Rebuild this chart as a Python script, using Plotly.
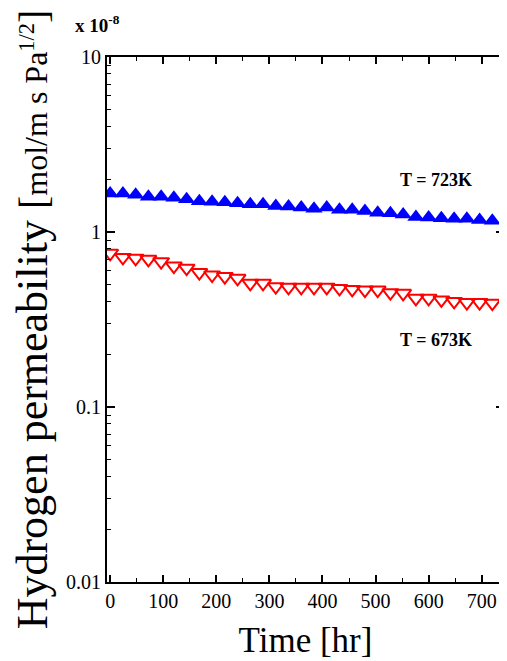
import plotly.graph_objects as go

time_hr = [0, 24, 48, 72, 96, 120, 144, 168, 192, 216, 240, 264, 288, 312, 336, 360,
           384, 408, 432, 456, 480, 504, 528, 552, 576, 600, 624, 648, 672, 696, 720]

perm_723K = [1.66, 1.66, 1.63, 1.59, 1.59, 1.57, 1.54, 1.50, 1.49, 1.48, 1.46, 1.44, 1.44,
             1.41, 1.40, 1.38, 1.36, 1.38, 1.34, 1.34, 1.32, 1.29, 1.28, 1.26, 1.22, 1.21,
             1.20, 1.19, 1.19, 1.17, 1.16]

perm_673K = [0.756, 0.716, 0.707, 0.698, 0.677, 0.639, 0.621, 0.586, 0.568, 0.556, 0.544,
             0.509, 0.509, 0.487, 0.483, 0.483, 0.483, 0.483, 0.476, 0.470, 0.466, 0.466,
             0.450, 0.446, 0.418, 0.418, 0.409, 0.401, 0.395, 0.395, 0.392]

x_ticks = [0, 100, 200, 300, 400, 500, 600, 700]
x_minor = [50, 150, 250, 350, 450, 550, 650]
y_ticks = [0.01, 0.1, 1, 10]
y_tick_text = ["0.01", "0.1", "1", "10"]
y_minor = [m * d for d in (0.01, 0.1, 1) for m in range(2, 10)]

FONT = '"Liberation Serif", "Times New Roman", Times, serif'

fig = go.Figure()
fig.add_trace(go.Scatter(
    x=time_hr, y=perm_723K, mode="markers", name="T = 723K",
    marker=dict(symbol="triangle-up", size=15, color="#0000FF",
                line=dict(width=0)),
))
fig.add_trace(go.Scatter(
    x=time_hr, y=perm_673K, mode="markers", name="T = 673K",
    marker=dict(symbol="triangle-down-open", size=14, color="#FF0000",
                line=dict(width=2, color="#FF0000")),
))

# page body has an 8px margin, so the figure is 8px smaller and shifted
fig.update_layout(
    width=499, height=653,
    margin=dict(l=99, r=3, t=49, b=79),
    paper_bgcolor="white", plot_bgcolor="white",
    showlegend=False,
    font=dict(family=FONT, color="black", size=20),
)

fig.update_xaxes(
    range=[-6, 742], tickmode="array", tickvals=x_ticks, automargin=False,
    ticks="inside", ticklen=7, tickwidth=1.5, tickcolor="black",
    showline=True, linewidth=2, linecolor="black", mirror="allticks",
    showgrid=False, zeroline=False,
    minor=dict(tickmode="array", tickvals=x_minor,
               ticks="inside", ticklen=4, tickwidth=1, tickcolor="black", showgrid=False),
    tickfont=dict(family=FONT, size=20),
    title=dict(text="Time [hr]", font=dict(family=FONT, size=35), standoff=16),
)
fig.update_yaxes(
    type="log", range=[-2, 1], tickmode="array", tickvals=y_ticks, ticktext=y_tick_text,
    automargin=False,
    ticks="inside", ticklen=8, tickwidth=1.5, tickcolor="black",
    showline=True, linewidth=2, linecolor="black", mirror="allticks",
    showgrid=False, zeroline=False,
    minor=dict(tickmode="array", tickvals=y_minor,
               ticks="inside", ticklen=4, tickwidth=1, tickcolor="black", showgrid=False),
    tickfont=dict(family=FONT, size=20),
    title=dict(text=("Hydrogen permeability "
                     "<span style='font-size:40px'>[</span>"
                     "<span style='font-size:32px'>mol/m s Pa<sup>1/2</sup></span>"
                     "<span style='font-size:40px'>]</span>"),
               font=dict(family=FONT, size=44), standoff=17),
)

# plot area in page pixels: x 107..504, y 57..582
def px_x(p):
    return (p - 107) / 397.0

def px_y(p):
    return (582 - p) / 525.0

fig.add_annotation(x=px_x(436), y=px_y(180), xref="paper", yref="paper",
                   xanchor="center", yanchor="middle",
                   text="<b>T = 723K</b>", showarrow=False,
                   font=dict(family=FONT, size=18, color="black"))
fig.add_annotation(x=px_x(436), y=px_y(340), xref="paper", yref="paper",
                   xanchor="center", yanchor="middle",
                   text="<b>T = 673K</b>", showarrow=False,
                   font=dict(family=FONT, size=18, color="black"))
fig.add_annotation(x=px_x(73), y=px_y(24), xref="paper", yref="paper",
                   xanchor="left", yanchor="middle",
                   text="<b>x 10<sup>-8</sup></b>", showarrow=False,
                   font=dict(family=FONT, size=19, color="black"))

fig.write_html("out.html")
